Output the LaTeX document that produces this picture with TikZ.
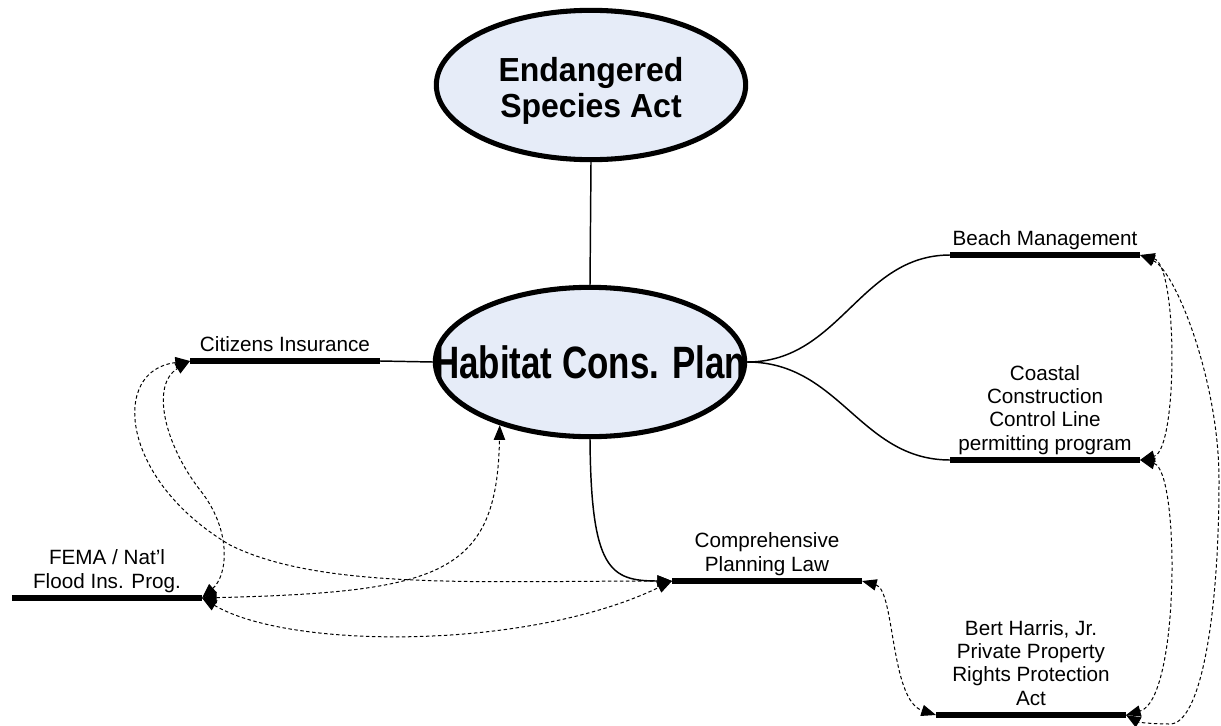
\documentclass[tikz,border=0pt]{standalone}
\usepackage{graphicx}
\usepackage{fontspec}
\setmainfont{Liberation Sans}
\usetikzlibrary{shapes.geometric,arrows.meta,calc}
\definecolor{hubfill}{RGB}{230,236,248}
\begin{document}
\begin{tikzpicture}[x=0.75pt,y=-0.75pt,
  hub/.style={ellipse, draw=black, line width=3.8pt, fill=hubfill,
    minimum width=232pt, minimum height=112pt, inner sep=0pt},
  hubtext/.style={font=\bfseries\fontsize{25pt}{26.5pt}\selectfont, align=center, inner sep=0pt},
  bar/.style={line width=5pt},
  lbl/.style={font=\fontsize{15.5pt}{17.5pt}\selectfont, align=center, inner sep=0pt,
    anchor=south, text depth=3.5pt},
  link/.style={line width=1.1pt},
  tip/.style={-{Triangle[length=11pt,width=8.5pt]}},
  dlink/.style={line width=0.75pt, dash pattern=on 2.6pt off 1.9pt,
    {Triangle[length=11pt,width=8.5pt]}-{Triangle[length=11pt,width=8.5pt]}}
]
\useasboundingbox (0,0) rectangle (1221,725);

% main ellipses
\node[hub] (esa) at (591,85) {};
\node[hubtext] (esaT) at (591,91) {\scalebox{0.96}[1]{Endangered}\\\scalebox{0.96}[1]{Species Act}};
\node[hub] (hcp) at (590,362) {};
\node[hubtext, font=\bfseries\fontsize{34pt}{36pt}\selectfont] (hcpT) at (hcp) {\scalebox{0.77}[1]{Habitat Cons. Plan}};

% bars
\coordinate (citL) at (190,361);  \coordinate (citR) at (380,361);
\coordinate (beachL) at (950,255); \coordinate (beachR) at (1140,255);
\coordinate (coastL) at (950,460); \coordinate (coastR) at (1140,460);
\coordinate (compL) at (672,581);  \coordinate (compR) at (862,581);
\coordinate (bertL) at (936,715);  \coordinate (bertR) at (1126,715);
\coordinate (femaL) at (12,598);   \coordinate (femaR) at (202,598);

\draw[bar] (citL) -- (citR);
\draw[bar] (beachL) -- (beachR);
\draw[bar] (coastL) -- (coastR);
\draw[bar] (compL) -- (compR);
\draw[bar] (bertL) -- (bertR);
\draw[bar] (femaL) -- (femaR);

% labels
\node[lbl] (citT) at ($(citL)!.5!(citR)+(0,-5)$) {Citizens Insurance};
\node[lbl] (beachT) at ($(beachL)!.5!(beachR)+(0,-5)$) {Beach Management};
\node[lbl] (coastT) at ($(coastL)!.5!(coastR)+(0,-5)$) {Coastal\\Construction\\Control Line\\permitting program};
\node[lbl] (compT) at ($(compL)!.5!(compR)+(0,-5)$) {Comprehensive\\Planning Law};
\node[lbl] (bertT) at ($(bertL)!.5!(bertR)+(0,-5)$) {Bert Harris, Jr.\\Private Property\\Rights Protection\\Act};
\node[lbl] (femaT) at ($(femaL)!.5!(femaR)+(0,-5)$) {FEMA / Nat’l\\Flood Ins. Prog.};

% solid connectors
\draw[link] (esa.south) -- (hcp.north);
\draw[link] (citR) -- (hcp.west);
\draw[link] (hcp.east) .. controls (840,362) and (860,255) .. (beachL);
\draw[link] (hcp.east) .. controls (840,362) and (860,460) .. (coastL);
\draw[link,tip] (hcp.south) .. controls (591,570) and (610,581) .. (compL);

% dashed connectors
\draw[dlink] (citL) .. controls (110,370) and (120,480) .. (230,545) .. controls (320,590) and (480,581) .. (compL);
\draw[dlink] (femaR) .. controls (228,575) and (232,530) .. (200,490) .. controls (165,445) and (150,385) .. (citL);
\draw[dlink] (femaR) .. controls (440,592) and (497,575) .. (hcp.-145);
\draw[dlink] (femaR) .. controls (290,650) and (530,650) .. (compL);
\draw[dlink] (beachR) .. controls (1178,265) and (1178,450) .. (coastR);
\draw[dlink] (coastR) .. controls (1180,470) and (1180,700) .. (bertR);
\draw[dlink] (beachR) .. controls (1175,270) and (1219,380) .. (1219,480) .. controls (1219,620) and (1200,724) .. (1170,724) .. controls (1150,724) and (1138,722) .. (bertR);
\draw[dlink] (compR) .. controls (895,590) and (890,700) .. (bertL);
\end{tikzpicture}
\end{document}
